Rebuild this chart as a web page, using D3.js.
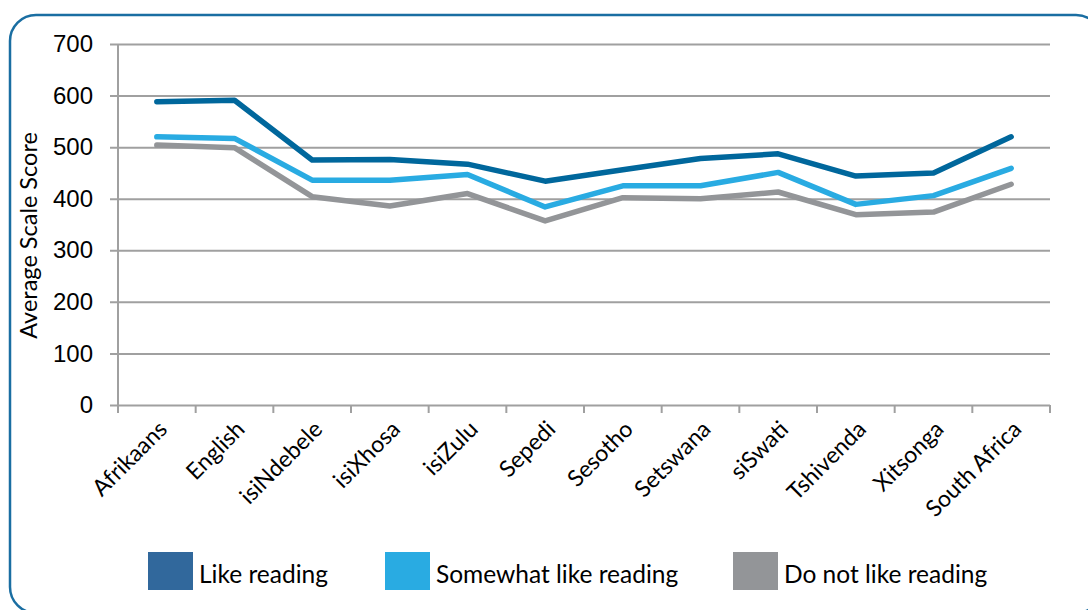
<!DOCTYPE html>
<html>
<head>
<meta charset="utf-8">
<script src="https://cdn.jsdelivr.net/npm/d3@7"></script>
<style>
  body { margin: 0; background: #fff; }
  svg { display: block; font-family: Lato, "Open Sans", sans-serif; }
</style>
</head>
<body>
<div id="chart"></div>
<script>
// data
const categories = ['Afrikaans', 'English', 'isiNdebele', 'isiXhosa', 'isiZulu', 'Sepedi',
  'Sesotho', 'Setswana', 'siSwati', 'Tshivenda', 'Xitsonga', 'South Africa'];
const likeReading = [588, 591, 475, 476, 467, 434, 456, 478, 487, 444, 450, 520];
const somewhatLike = [520, 517, 436, 436, 447, 384, 425, 425, 451, 389, 406, 459];
const notLike = [504, 499, 404, 386, 410, 357, 402, 400, 413, 369, 374, 428];
const yTicks = [0, 100, 200, 300, 400, 500, 600, 700];
const seriesNames = ['Like reading', 'Somewhat like reading', 'Do not like reading'];
const lineColors = ['#00679c', '#29abe2', '#939598'];
const swatchColors = ['#31689c', '#29abe2', '#939598'];

const width = 1088, height = 610;
const svg = d3.select('#chart').append('svg')
    .attr('width', width)
    .attr('height', height);

// rounded frame
svg.append('rect')
    .attr('x', 10).attr('y', 15)
    .attr('width', 1092).attr('height', 598)
    .attr('rx', 26)
    .attr('fill', 'none')
    .attr('stroke', '#1a6ea2')
    .attr('stroke-width', 2.5);

const plot = { left: 118, right: 1050, top: 44, bottom: 405 };

const x = d3.scaleBand().domain(categories).range([plot.left, plot.right]);
const y = d3.scaleLinear().domain([0, 700]).range([plot.bottom, plot.top]);

// gridlines + y axis
const yAxis = svg.append('g')
    .attr('transform', `translate(${plot.left},0)`)
    .call(d3.axisLeft(y).tickValues(yTicks)
        .tickSize(-(plot.right - plot.left)).tickSizeOuter(0).tickPadding(25));
yAxis.select('.domain').remove();
yAxis.selectAll('.tick line')
    .attr('x1', -8)
    .attr('stroke', '#a0a0a0')
    .attr('stroke-width', 2);
yAxis.selectAll('.tick text')
    .attr('fill', '#000')
    .style('font-size', '24px');

svg.append('line')
    .attr('x1', plot.left).attr('x2', plot.left)
    .attr('y1', plot.top).attr('y2', plot.bottom)
    .attr('stroke', '#a0a0a0').attr('stroke-width', 2);

// x axis ticks at band edges
const edges = categories.map(c => x(c)).concat([plot.right]);
svg.append('g').selectAll('line').data(edges).join('line')
    .attr('x1', d => d).attr('x2', d => d)
    .attr('y1', plot.bottom).attr('y2', plot.bottom + 8)
    .attr('stroke', '#a0a0a0').attr('stroke-width', 2);

svg.append('g').selectAll('text').data(categories).join('text')
    .attr('transform', d => `translate(${x(d) + x.bandwidth() / 2 + 6},${plot.bottom + 20}) rotate(-45)`)
    .attr('text-anchor', 'end')
    .attr('dy', '0.35em')
    .style('font-size', '23px')
    .text(d => d);

// y axis title
svg.append('text')
    .attr('transform', `translate(37,${(plot.top + plot.bottom) / 2 + 11}) rotate(-90)`)
    .attr('text-anchor', 'middle')
    .style('font-size', '23.5px')
    .text('Average Scale Score');

// lines
const line = d3.line()
    .x((d, i) => x(categories[i]) + x.bandwidth() / 2)
    .y(d => y(d));

const allSeries = [likeReading, somewhatLike, notLike];
// draw grey first so the darker ones sit on top
[2, 1, 0].forEach(i => {
  svg.append('path')
      .datum(allSeries[i])
      .attr('d', line)
      .attr('fill', 'none')
      .attr('stroke', lineColors[i])
      .attr('stroke-width', 5.5)
      .attr('stroke-linecap', 'round')
      .attr('stroke-linejoin', 'round');
});

// legend
const legendX = [148, 385, 733];
const legend = svg.append('g').selectAll('g').data(seriesNames).join('g')
    .attr('transform', (d, i) => `translate(${legendX[i]},552)`);
legend.append('rect')
    .attr('width', 45).attr('height', 38)
    .attr('fill', (d, i) => swatchColors[i]);
legend.append('text')
    .attr('x', 51).attr('y', 31)
    .style('font-size', '24.5px')
    .text(d => d);
</script>
</body>
</html>
